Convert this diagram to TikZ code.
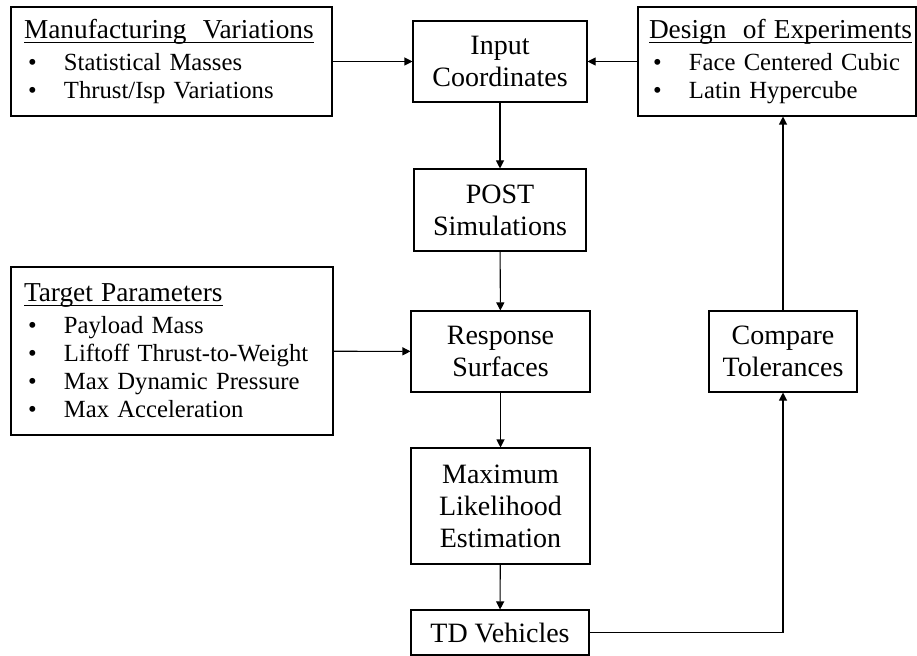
\documentclass[tikz,border=0pt]{standalone}
\usepackage{fontspec}
\setmainfont{Liberation Serif}
\usetikzlibrary{positioning,calc,arrows.meta}

\tikzset{
    box/.style={draw, line width=0.8pt, align=center, inner sep=0pt,
        font=\fontsize{21}{24}\selectfont},
    listbox/.style={draw, line width=0.8pt, align=left, inner sep=0pt,
        font=\fontsize{18.5}{21}\selectfont},
    flow/.style={line width=0.8pt, -{Triangle[length=6pt,width=6pt]}}
}
\newcommand{\itm}{\makebox[30pt][l]{\hspace{3pt}\textbullet}}
\newcommand{\hd}[1]{{\fontsize{20.5}{21}\selectfont\setbox0\hbox{#1}\rlap{\rule[-3pt]{\wd0}{0.6pt}}\box0}}

\begin{document}
\begin{tikzpicture}[x=0.75pt, y=-0.75pt]
    \useasboundingbox (0,0) rectangle (917,656);

    % middle column
    \node[box, minimum width=174*0.75pt, minimum height=81*0.75pt] (input) at (500,61.5) {Input\\Coordinates};
    \node[box, minimum width=172*0.75pt, minimum height=82*0.75pt] (post) at (500,210) {POST\\Simulations};
    \node[box, minimum width=179*0.75pt, minimum height=81*0.75pt] (resp) at (500.5,351.5) {Response\\Surfaces};
    \node[box, minimum width=179*0.75pt, minimum height=116*0.75pt] (mle) at (500.5,506) {Maximum\\Likelihood\\Estimation};
    \node[box, minimum width=178*0.75pt, minimum height=45*0.75pt] (td) at (500,632.5) {TD Vehicles};
    \node[box, minimum width=148*0.75pt, minimum height=81*0.75pt] (comp) at (783,351.5) {Compare\\Tolerances};

    % side boxes with lists
    \node[listbox, minimum width=321*0.75pt, minimum height=109*0.75pt, text width=295*0.75pt] (mfg) at (171.5,61.5)
        {\hd{Manufacturing\ \ Variations}\\[3pt] \itm Statistical Masses\\ \itm Thrust/Isp Variations};
    \node[listbox, minimum width=278*0.75pt, minimum height=109*0.75pt, text width=256*0.75pt] (doe) at (777,61.5)
        {\hd{Design\ \ of Experiments}\\[3pt] \itm Face Centered Cubic\\ \itm Latin Hypercube};
    \node[listbox, minimum width=322*0.75pt, minimum height=168*0.75pt, text width=296*0.75pt] (target) at (172,351)
        {\hd{Target Parameters}\\[3pt] \itm Payload Mass\\ \itm Liftoff Thrust-to-Weight\\ \itm Max Dynamic Pressure\\ \itm Max Acceleration};

    % connectors
    \draw[flow] (mfg) -- (input);
    \draw[flow] (doe) -- (input);
    \draw[flow] (input) -- (post);
    \draw[flow] (post) -- (resp);
    \draw[flow] (target) -- (resp);
    \draw[flow] (resp) -- (mle);
    \draw[flow] (mle) -- (td);
    \draw[flow] (td.east) -| (comp.south);
    \draw[flow] (comp.north) -- (comp.north |- doe.south);
\end{tikzpicture}
\end{document}
